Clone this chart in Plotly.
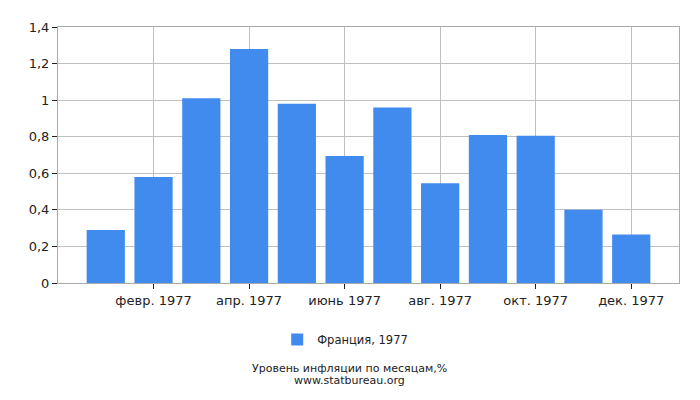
import plotly.graph_objects as go

# Данные: инфляция по месяцам, Франция 1977
meses = ['янв. 1977', 'февр. 1977', 'март 1977', 'апр. 1977', 'май 1977', 'июнь 1977',
         'июль 1977', 'авг. 1977', 'сент. 1977', 'окт. 1977', 'нояб. 1977', 'дек. 1977']
valores = [0.29, 0.58, 1.01, 1.28, 0.98, 0.695, 0.96, 0.545, 0.81, 0.805, 0.40, 0.265]
serie = 'Франция, 1977'
marcas_x = meses[1::2]
marcas_y = [0, 0.2, 0.4, 0.6, 0.8, 1, 1.2, 1.4]

fig = go.Figure()

fig.add_trace(go.Bar(
    x=meses,
    y=valores,
    name=serie,
    marker=dict(color='#428BEE', line=dict(width=0)),
    showlegend=True
))

# la página tiene 8px de margen en body, se compensa en los márgenes
fig.update_layout(
    width=700, height=400,
    margin=dict(l=49.5, r=29.3, t=14.7, b=124.5),
    plot_bgcolor='white',
    paper_bgcolor='white',
    separators=', ',
    bargap=0.2,
    font=dict(family='DejaVu Sans', size=13, color='#222'),
    legend=dict(orientation='h', x=0.353, xanchor='left', y=-0.2205, yanchor='middle',
                font=dict(size=11.5)),
    xaxis=dict(
        type='category',
        range=[-1, 12],
        tickvals=marcas_x,
        ticktext=marcas_x,
        showgrid=True, gridcolor='#c0c0c0', gridwidth=1,
        showline=True, linecolor='#aaaaaa', mirror=True,
        ticks='outside', ticklen=5, tickcolor='#222'
    ),
    yaxis=dict(
        range=[0, 1.4],
        tickvals=marcas_y,
        showgrid=True, gridcolor='#c0c0c0', gridwidth=1,
        showline=True, linecolor='#aaaaaa', mirror=True,
        ticks='outside', ticklen=5, tickcolor='#222',
        zeroline=False
    ),
    annotations=[
        dict(text='Уровень инфляции по месяцам,%', x=0.47, y=-0.3336, xref='paper', yref='paper',
             showarrow=False, font=dict(size=11), yanchor='middle'),
        dict(text='www.statbureau.org', x=0.47, y=-0.3796, xref='paper', yref='paper',
             showarrow=False, font=dict(size=11), yanchor='middle')
    ]
)

fig.write_html("out.html")
